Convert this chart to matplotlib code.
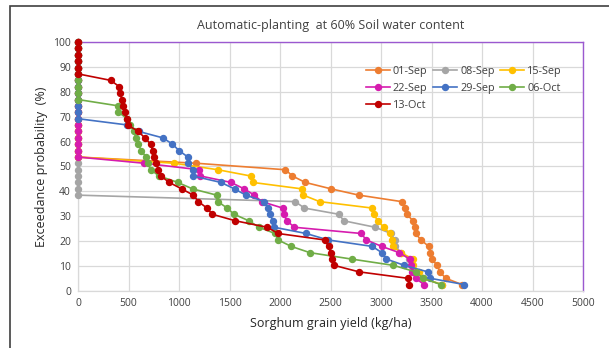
import matplotlib
matplotlib.use("Agg")
import matplotlib.pyplot as plt
from matplotlib.patches import Rectangle

plt.rcParams["font.family"] = ["Open Sans", "DejaVu Sans"]

# exceedance probability (%) for each ranked year, lowest to highest
prob = [2.6, 5.1, 7.7, 10.3, 12.8, 15.4, 17.9, 20.5, 23.1, 25.6,
        28.2, 30.8, 33.3, 35.9, 38.5, 41.0, 43.6, 46.2, 48.7, 51.3,
        53.8, 56.4, 59.0, 61.5, 64.1, 66.7, 69.2, 71.8, 74.4, 76.9,
        79.5, 82.1, 84.6, 87.2, 89.7, 92.3, 94.9, 97.4, 100.0]

# grain yield (kg/ha), same order as prob
y_01sep = [3800, 3642, 3581, 3558, 3500, 3488, 3473, 3396, 3342, 3338,
           3315, 3258, 3242, 3204, 2781, 2508, 2250, 2123, 2054, 1173,
           0, 0, 0, 0, 0, 0, 0, 0, 0, 0,
           0, 0, 0, 0, 0, 0, 0, 0, 0]
y_08sep = [3604, 3412, 3373, 3304, 3277, 3200, 3142, 3135, 3100, 2942,
           2631, 2585, 2242, 2150, 0, 0, 0, 0, 0, 0,
           0, 0, 0, 0, 0, 0, 0, 0, 0, 0,
           0, 0, 0, 0, 0, 0, 0, 0, 0]
y_15sep = [3604, 3412, 3373, 3319, 3315, 3200, 3119, 3104, 3088, 3027,
           2969, 2927, 2915, 2392, 2231, 2219, 1731, 1708, 1385, 954,
           0, 0, 0, 0, 0, 0, 0, 0, 0, 0,
           0, 0, 0, 0, 0, 0, 0, 0, 0]
y_22sep = [3427, 3342, 3308, 3296, 3285, 3181, 3008, 2854, 2804, 2142,
           2069, 2035, 2027, 1819, 1746, 1646, 1515, 1212, 1200, 658,
           0, 0, 0, 0, 0, 0, 0, 0, 0, 0,
           0, 0, 0, 0, 0, 0, 0, 0, 0]
y_29sep = [3823, 3488, 3462, 3231, 3054, 3008, 2915, 2477, 2258, 1942,
           1927, 1904, 1885, 1846, 1662, 1550, 1415, 1138, 1138, 1088,
           1088, 1000, 935, 840, 600, 485, 0, 0, 0, 0,
           0, 0, 0, 0, 0, 0, 0, 0, 0]
y_06oct = [3592, 3419, 3342, 3123, 2712, 2296, 2112, 1981, 1950, 1792,
           1692, 1546, 1477, 1385, 1373, 1135, 988, 804, 719, 692,
           673, 627, 596, 573, 554, 519, 488, 400, 392, 0,
           0, 0, 0, 0, 0, 0, 0, 0, 0]
y_13oct = [3281, 3265, 2781, 2535, 2512, 2500, 2481, 2442, 1981, 1873,
           1558, 1331, 1277, 1192, 1142, 1027, 904, 819, 796, 777,
           754, 738, 719, 662, 596, 492, 481, 462, 446, 435,
           415, 408, 323, 0, 0, 0, 0, 0, 0]

labels = ["01-Sep", "08-Sep", "15-Sep", "22-Sep", "29-Sep", "06-Oct", "13-Oct"]
series = [y_01sep, y_08sep, y_15sep, y_22sep, y_29sep, y_06oct, y_13oct]
colors = ["#ED7D31", "#A5A5A5", "#FFC000", "#D61CAE", "#4472C4", "#70AD47", "#C00000"]

fig = plt.figure(figsize=(6.09, 3.48), dpi=100)
ax = fig.add_axes([78 / 609, 1 - 291 / 348, 505 / 609, 249 / 348])

# outer chart border
fig.patches.append(Rectangle((10 / 609, -0.1), 1.2, 0.1 + 1 - 6 / 348,
                             transform=fig.transFigure, fill=False,
                             edgecolor="#404040", linewidth=1.2))

for ys, lab, c in zip(series, labels, colors):
    ax.plot(ys, prob, "o-", color=c, label=lab, linewidth=1.2,
            markersize=4.3, clip_on=False, zorder=3)

ax.set_xlim(0, 5000)
ax.set_ylim(0, 100)
ax.set_xticks(range(0, 5001, 500))
ax.set_yticks(range(0, 101, 10))
ax.tick_params(labelsize=7.5, length=0, colors="#404040", pad=5)
ax.grid(True, color="#D9D9D9", linewidth=0.9)
ax.set_axisbelow(True)

for s in ["top", "right"]:
    ax.spines[s].set_color("#9B59D0")
    ax.spines[s].set_linewidth(1.0)
for s in ["left", "bottom"]:
    ax.spines[s].set_color("#D9D9D9")
    ax.spines[s].set_linewidth(0.9)

ax.set_xlabel("Sorghum grain yield (kg/ha)", fontsize=9, color="#262626", labelpad=6)
ax.set_ylabel("Exceedance probability  (%)", fontsize=9, color="#262626", labelpad=4)
fig.text((78 + 583) / 2 / 609, 1 - 25 / 348,
         "Automatic-planting  at 60% Soil water content",
         ha="center", va="center", fontsize=9, color="#404040")

# legend is filled row by row in the original, matplotlib goes by column
handles, labs = ax.get_legend_handles_labels()
order = [0, 3, 6, 1, 4, 2, 5]
ax.legend([handles[i] for i in order], [labs[i] for i in order],
          loc="upper left", bbox_to_anchor=(0.555, 0.935), ncol=3,
          frameon=False, fontsize=7.8, handlelength=2.2, handletextpad=0.3,
          columnspacing=0.5, labelspacing=0.55, borderpad=0.2,
          labelcolor="#404040")

fig.savefig("out.png", dpi=100)
plt.close()
